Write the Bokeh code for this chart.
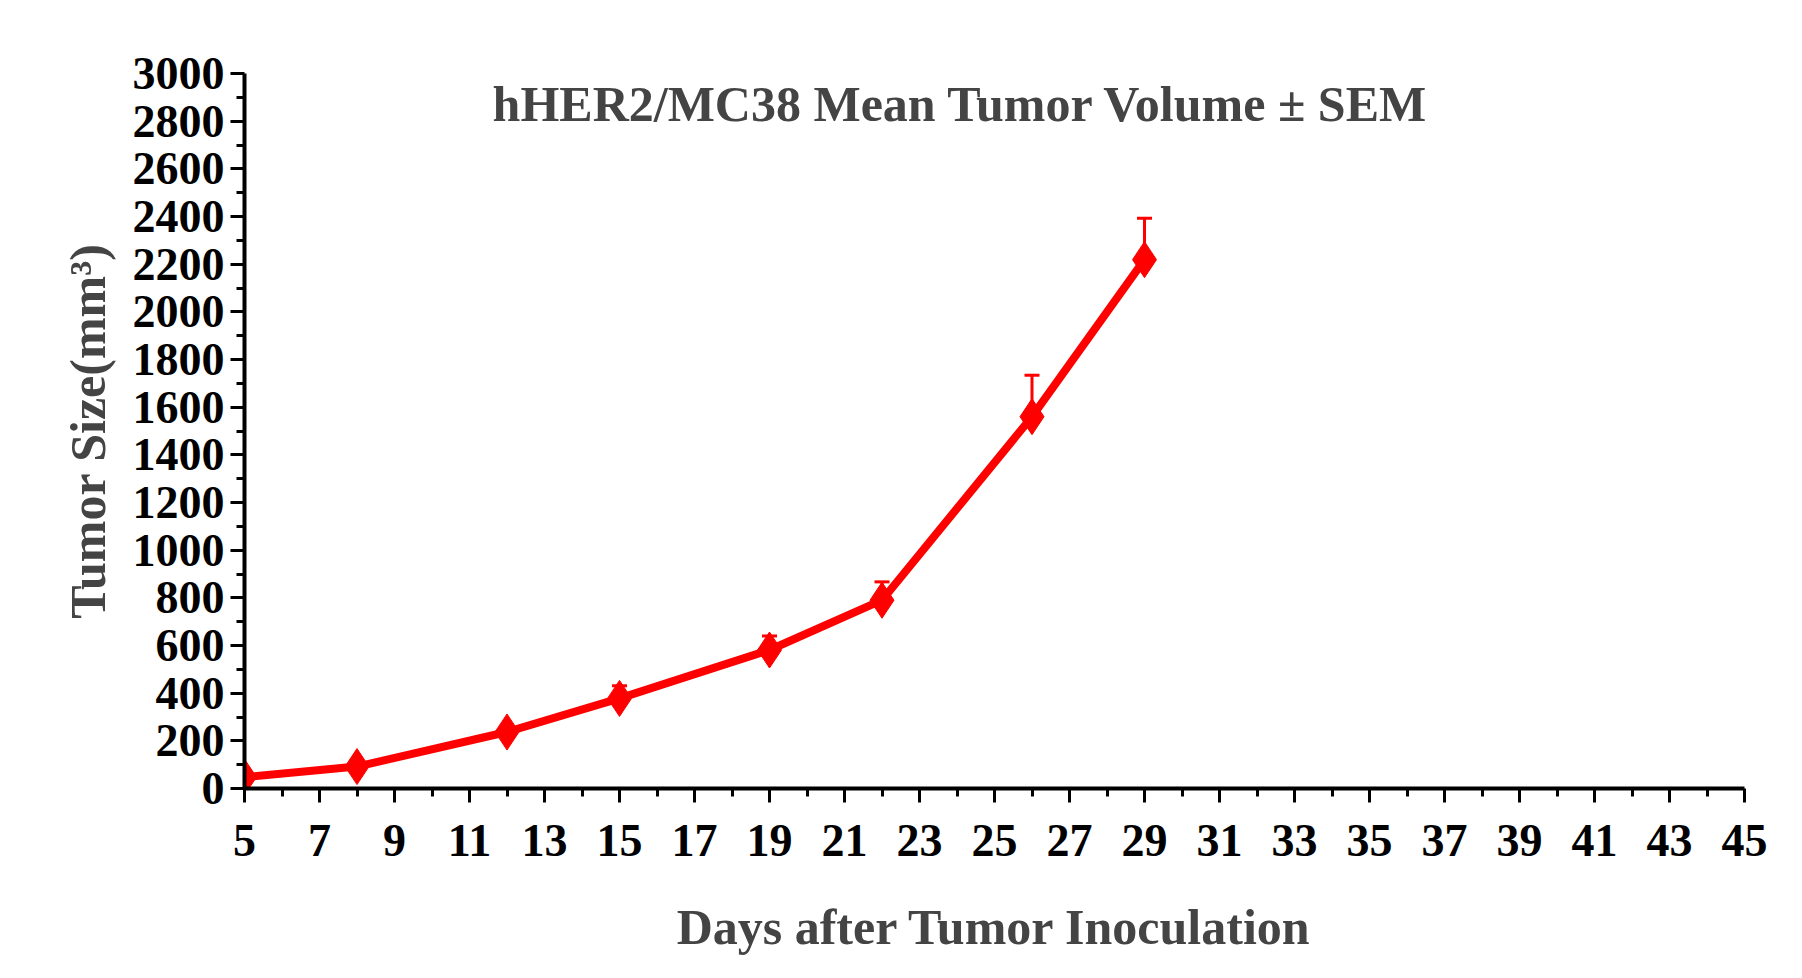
from bokeh.plotting import figure
from bokeh.models import FixedTicker, Range1d, Label
from bokeh.embed import file_html
from bokeh.resources import INLINE

days = [5, 8, 12, 15, 19, 22, 26, 29]
volume = [48, 92, 237, 378, 581, 790, 1560, 2219]
sem = [10, 12, 20, 53, 59, 77, 174, 174]

x_ticks = list(range(5, 46, 2))
y_ticks = list(range(0, 3001, 200))

FONT = "Liberation Serif"
RED = "#ff0000"

p = figure(width=1790, height=960, output_backend="svg", toolbar_location=None,
           x_range=Range1d(5, 45), y_range=Range1d(0, 3000),
           min_border_left=244, min_border_right=46, min_border_top=73, min_border_bottom=172)
p.outline_line_color = None
p.grid.visible = False

for ax in (p.xaxis, p.yaxis):
    ax.axis_line_width = 4
    ax.major_tick_line_width = 3
    ax.minor_tick_line_width = 3
    ax.major_tick_in = 0
    ax.minor_tick_in = 0
    ax.major_label_text_font = FONT
    ax.major_label_text_font_style = "bold"
    ax.major_label_text_font_size = "46px"
    ax.major_label_text_color = "black"
    ax.axis_label_text_font = FONT
    ax.axis_label_text_font_style = "bold"
    ax.axis_label_text_font_size = "50px"

p.xaxis.ticker = FixedTicker(ticks=x_ticks, minor_ticks=list(range(6, 45, 2)))
p.xaxis.major_tick_out = 14
p.xaxis.minor_tick_out = 8
p.xaxis.major_label_standoff = 22
p.xaxis.axis_label = "Days after Tumor Inoculation"
p.xaxis.axis_label_standoff = 40

p.yaxis.ticker = FixedTicker(ticks=y_ticks, minor_ticks=list(range(100, 3000, 200)))
p.yaxis.major_tick_out = 14
p.yaxis.minor_tick_out = 8
p.yaxis.major_label_standoff = 6
p.yaxis.axis_label = "Tumor Size(mm³)"
p.yaxis.axis_label_standoff = 14

# upper error bars
tops = [v + e for v, e in zip(volume, sem)]
p.segment(x0=days, y0=volume, x1=days, y1=tops, line_color=RED, line_width=3)
p.segment(x0=[d - 0.2 for d in days], y0=tops, x1=[d + 0.2 for d in days], y1=tops,
          line_color=RED, line_width=3)

p.line(days, volume, line_color=RED, line_width=8)
p.scatter(days, volume, marker="diamond", size=36, color=RED)

p.add_layout(Label(x=24.1, y=2870, text="hHER2/MC38 Mean Tumor Volume ± SEM",
                   text_font=FONT, text_font_style="bold", text_font_size="50px",
                   text_align="center", text_baseline="middle"))

open("out.html", "w").write(file_html(p, INLINE))
